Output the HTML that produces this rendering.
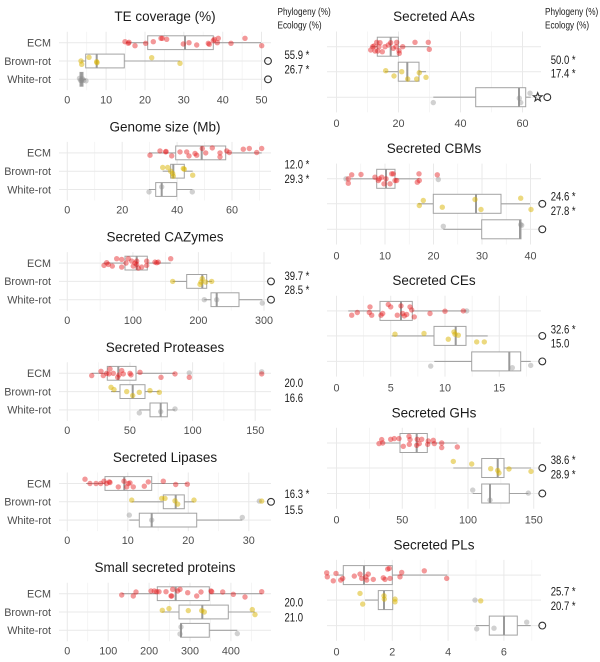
<!DOCTYPE html>
<html><head><meta charset="utf-8"><style>
html,body{margin:0;padding:0;background:#fff;}
svg{display:block;}
.gM{stroke:#e9e9e9;stroke-width:1;fill:none}
.gm{stroke:#f1f1f1;stroke-width:.7;fill:none}
.bx{fill:#fff;stroke:#a3a3a3;stroke-width:1}
.wh{stroke:#a3a3a3;stroke-width:1.1;fill:none}
.md{stroke:#9a9a9a;stroke-width:2;fill:none}
.e circle{fill:#e41a1c;fill-opacity:.45}
.b circle{fill:#d9b300;fill-opacity:.5}
.w circle{fill:#8c8c8c;fill-opacity:.4}
.oc{fill:none;stroke:#333;stroke-width:1.1}
text{font-family:"Liberation Sans",Arial,sans-serif}
.t{font-size:13.5px;fill:#1a1a1a;text-anchor:middle}
.tk{font-size:10.8px;fill:#4d4d4d;text-anchor:middle}
.yl{font-size:10.8px;fill:#4d4d4d;text-anchor:end}
.st{font-size:11.5px;fill:#1a1a1a}
.hd{font-size:10.5px;fill:#1a1a1a}
</style></head><body>
<svg width="600" height="662" viewBox="0 0 600 662" xmlns="http://www.w3.org/2000/svg">

<!-- headers -->
<text class="hd" transform="translate(277.5 15) scale(.78 1)">Phylogeny (%)</text>
<text class="hd" transform="translate(277.5 28.5) scale(.78 1)">Ecology (%)</text>
<text class="hd" transform="translate(545 15) scale(.78 1)">Phylogeny (%)</text>
<text class="hd" transform="translate(545 28.5) scale(.78 1)">Ecology (%)</text>

<!-- ============ L1 TE coverage ============ -->
<g transform="translate(0 16.7)">
<text class="t" x="165" y="4.5">TE coverage (%)</text>
<path class="gm" d="M86.7 15V73.6M125.6 15V73.6M164.4 15V73.6M203.2 15V73.6M242.1 15V73.6"/>
<path class="gM" d="M67.3 15V73.6M106.1 15V73.6M145 15V73.6M183.8 15V73.6M222.7 15V73.6M261.5 15V73.6M59 26H271M59 44.3H271M59 62.6H271"/>
<text class="yl" x="51" y="29.8">ECM</text><text class="yl" x="51" y="48.1">Brown-rot</text><text class="yl" x="51" y="66.4">White-rot</text>
<text class="tk" x="67.3" y="86.7">0</text><text class="tk" x="106.1" y="86.7">10</text><text class="tk" x="145" y="86.7">20</text><text class="tk" x="183.8" y="86.7">30</text><text class="tk" x="222.7" y="86.7">40</text><text class="tk" x="261.5" y="86.7">50</text>
<path class="wh" d="M126 26H147.7M213.3 26H261M81 44.3H85.7M124.3 44.3H180M79.5 62.6H80M83 62.6H86"/>
<rect class="bx" x="147.7" y="19.1" width="65.6" height="13.8"/><rect class="bx" x="85.7" y="37.4" width="38.6" height="13.8"/><rect class="bx" x="80" y="55.7" width="3" height="13.8"/>
<path class="md" d="M185 19.1V32.9M96.7 37.4V51.2M81.5 55.7V69.5"/>
<g class="e" transform="translate(0 26)"><circle cx="125" cy="-1" r="2.7"/><circle cx="128.3" cy=".6" r="2.7"/><circle cx="129" cy="-.4" r="2.7"/><circle cx="135" cy="3" r="2.7"/><circle cx="145.7" cy=".6" r="2.7"/><circle cx="153.3" cy="-1" r="2.7"/><circle cx="161" cy="-4.4" r="2.7"/><circle cx="162.3" cy="-4.4" r="2.7"/><circle cx="166.7" cy="-3.4" r="2.7"/><circle cx="183.3" cy="1.3" r="2.7"/><circle cx="189" cy="0" r="2.7"/><circle cx="196.7" cy="2.3" r="2.7"/><circle cx="208.3" cy=".6" r="2.7"/><circle cx="209.3" cy="1.6" r="2.7"/><circle cx="213.3" cy="-2" r="2.7"/><circle cx="214.3" cy="-3.4" r="2.7"/><circle cx="217.3" cy="0" r="2.7"/><circle cx="218.3" cy="-4.4" r="2.7"/><circle cx="231" cy=".6" r="2.7"/><circle cx="245" cy="-4.4" r="2.7"/><circle cx="261.7" cy="3" r="2.7"/></g>
<g class="b" transform="translate(0 44.3)"><circle cx="81" cy="0" r="2.7"/><circle cx="81.7" cy="3.3" r="2.7"/><circle cx="89" cy="-3.7" r="2.7"/><circle cx="96.7" cy=".7" r="2.7"/><circle cx="97" cy="1.7" r="2.7"/><circle cx="151.7" cy="-3.3" r="2.7"/><circle cx="180" cy="2.3" r="2.7"/></g>
<g class="w" transform="translate(0 62.6)"><circle cx="79.5" cy="-1" r="2.7"/><circle cx="80.5" cy="1" r="2.7"/><circle cx="81.5" cy="1.5" r="2.7"/><circle cx="82.5" cy="-.5" r="2.7"/><circle cx="83.5" cy="1" r="2.7"/><circle cx="86" cy="1.5" r="2.7"/></g>
<circle class="oc" cx="268" cy="44.3" r="3.4"/><circle class="oc" cx="268" cy="62.6" r="3.4"/>
</g>
<text class="st" transform="translate(284.5 59) scale(.83 1)">55.9 *</text>
<text class="st" transform="translate(284.5 73.5) scale(.83 1)">26.7 *</text>

<!-- ============ L2 Genome size ============ -->
<g transform="translate(0 126.9)">
<text class="t" x="165" y="4.5">Genome size (Mb)</text>
<path class="gm" d="M94.75 15V73.6M149.65 15V73.6M204.55 15V73.6M259.45 15V73.6"/>
<path class="gM" d="M67.3 15V73.6M122.2 15V73.6M177.1 15V73.6M232 15V73.6M59 26H271M59 44.3H271M59 62.6H271"/>
<text class="yl" x="51" y="29.8">ECM</text><text class="yl" x="51" y="48.1">Brown-rot</text><text class="yl" x="51" y="66.4">White-rot</text>
<text class="tk" x="67.3" y="86.7">0</text><text class="tk" x="122.2" y="86.7">20</text><text class="tk" x="177.1" y="86.7">40</text><text class="tk" x="232" y="86.7">60</text>
<path class="wh" d="M149 26H175.7M225.7 26H261.7M162.7 44.3H170.7M184.3 44.3H192.7M149 62.6H155.7M176.7 62.6H192.3"/>
<rect class="bx" x="175.7" y="19.1" width="50" height="13.8"/><rect class="bx" x="170.7" y="37.4" width="13.6" height="13.8"/><rect class="bx" x="155.7" y="55.7" width="21" height="13.8"/>
<path class="md" d="M201.7 19.1V32.9M173.3 37.4V51.2M161.7 55.7V69.5"/>
<g class="e" transform="translate(0 26)"><circle cx="150" cy="2.3" r="2.7"/><circle cx="160" cy="-2" r="2.7"/><circle cx="165.7" cy="-1" r="2.7"/><circle cx="171.7" cy="3" r="2.7"/><circle cx="186.7" cy="-1" r="2.7"/><circle cx="189" cy="3" r="2.7"/><circle cx="195" cy=".6" r="2.7"/><circle cx="202.3" cy="-4.4" r="2.7"/><circle cx="205.7" cy="0" r="2.7"/><circle cx="212.3" cy="-5" r="2.7"/><circle cx="220" cy="0" r="2.7"/><circle cx="220" cy="4" r="2.7"/><circle cx="226.7" cy="-2" r="2.7"/><circle cx="229.3" cy="-.4" r="2.7"/><circle cx="243.3" cy="-3.7" r="2.7"/><circle cx="249.3" cy="-4.4" r="2.7"/><circle cx="256.7" cy="-.4" r="2.7"/><circle cx="261.7" cy="-4.4" r="2.7"/><circle cx="180" cy="-1" r="2.7"/><circle cx="196.7" cy="2.3" r="2.7"/><circle cx="166" cy="-1.5" r="2.7"/></g>
<g class="b" transform="translate(0 44.3)"><circle cx="162.7" cy="-3.7" r="2.7"/><circle cx="167.7" cy="-3.7" r="2.7"/><circle cx="170.7" cy="0" r="2.7"/><circle cx="172.7" cy="2.3" r="2.7"/><circle cx="173.3" cy="5" r="2.7"/><circle cx="183.3" cy="-2.7" r="2.7"/><circle cx="184.3" cy="-2" r="2.7"/><circle cx="192.7" cy="4" r="2.7"/></g>
<g class="w" transform="translate(0 62.6)"><circle cx="149" cy="2.4" r="2.7"/><circle cx="161.7" cy="-2.6" r="2.7"/><circle cx="192.3" cy="2.4" r="2.7"/></g>
</g>
<text class="st" transform="translate(284.5 168.5) scale(.83 1)">12.0 *</text>
<text class="st" transform="translate(284.5 183) scale(.83 1)">29.3 *</text>

<!-- ============ L3 CAZymes ============ -->
<g transform="translate(0 237.1)">
<text class="t" x="165" y="4.5">Secreted CAZymes</text>
<path class="gm" d="M100.1 15V73.6M165.6 15V73.6M231.2 15V73.6"/>
<path class="gM" d="M67.3 15V73.6M132.9 15V73.6M198.4 15V73.6M264 15V73.6M59 26H271M59 44.3H271M59 62.6H271"/>
<text class="yl" x="51" y="29.8">ECM</text><text class="yl" x="51" y="48.1">Brown-rot</text><text class="yl" x="51" y="66.4">White-rot</text>
<text class="tk" x="67.3" y="86.7">0</text><text class="tk" x="132.9" y="86.7">100</text><text class="tk" x="198.4" y="86.7">200</text><text class="tk" x="264" y="86.7">300</text>
<path class="wh" d="M103.3 26H125M147.3 26H170.7M172.7 44.3H186.7M206.7 44.3H212M204.3 62.6H211M239 62.6H262.3"/>
<rect class="bx" x="125" y="19.1" width="22.3" height="13.8"/><rect class="bx" x="186.7" y="37.4" width="20" height="13.8"/><rect class="bx" x="211" y="55.7" width="28" height="13.8"/>
<path class="md" d="M136.7 19.1V32.9M202.3 37.4V51.2M216.7 55.7V69.5"/>
<g class="e" transform="translate(0 26)"><circle cx="104" cy="2.3" r="2.7"/><circle cx="106.7" cy="-.4" r="2.7"/><circle cx="112.3" cy="3" r="2.7"/><circle cx="116.7" cy="-4.4" r="2.7"/><circle cx="121.7" cy="-3.7" r="2.7"/><circle cx="126" cy="0" r="2.7"/><circle cx="131.7" cy="-2" r="2.7"/><circle cx="133.3" cy="3" r="2.7"/><circle cx="136.7" cy="-2" r="2.7"/><circle cx="136.7" cy="1.3" r="2.7"/><circle cx="141.7" cy="4" r="2.7"/><circle cx="146.7" cy="-2" r="2.7"/><circle cx="146.7" cy="2.3" r="2.7"/><circle cx="155" cy="-1" r="2.7"/><circle cx="156.7" cy="-.4" r="2.7"/><circle cx="158.3" cy="-1" r="2.7"/><circle cx="170.7" cy="-4.4" r="2.7"/><circle cx="128.3" cy="-4.4" r="2.7"/><circle cx="108.3" cy="1.3" r="2.7"/><circle cx="135" cy="0" r="2.7"/><circle cx="121.7" cy="4" r="2.7"/><circle cx="138.3" cy="5" r="2.7"/></g>
<g class="b" transform="translate(0 44.3)"><circle cx="172.7" cy="0" r="2.7"/><circle cx="201" cy=".7" r="2.7"/><circle cx="202.3" cy="-2.7" r="2.7"/><circle cx="205.7" cy=".7" r="2.7"/><circle cx="211.7" cy="0" r="2.7"/><circle cx="200" cy="3" r="2.7"/></g>
<g class="w" transform="translate(0 62.6)"><circle cx="204.3" cy="0" r="2.7"/><circle cx="216.7" cy="0" r="2.7"/><circle cx="262.3" cy="3.4" r="2.7"/></g>
<circle class="oc" cx="271" cy="44.3" r="3.4"/><circle class="oc" cx="271" cy="62.6" r="3.4"/>
</g>
<text class="st" transform="translate(284.5 280) scale(.83 1)">39.7 *</text>
<text class="st" transform="translate(284.5 294) scale(.83 1)">28.5 *</text>

<!-- ============ L4 Proteases ============ -->
<g transform="translate(0 347.3)">
<text class="t" x="165" y="4.5">Secreted Proteases</text>
<path class="gm" d="M98.6 15V73.6M161.3 15V73.6M223.9 15V73.6"/>
<path class="gM" d="M67.3 15V73.6M129.9 15V73.6M192.6 15V73.6M255.2 15V73.6M59 26H271M59 44.3H271M59 62.6H271"/>
<text class="yl" x="51" y="29.8">ECM</text><text class="yl" x="51" y="48.1">Brown-rot</text><text class="yl" x="51" y="66.4">White-rot</text>
<text class="tk" x="67.3" y="86.7">0</text><text class="tk" x="129.9" y="86.7">50</text><text class="tk" x="192.6" y="86.7">100</text><text class="tk" x="255.2" y="86.7">150</text>
<path class="wh" d="M91.7 26H107.3M136 26H175M111 44.3H120M145 44.3H159.3M139.3 62.6H150M167.3 62.6H175"/>
<rect class="bx" x="107.3" y="19.1" width="28.7" height="13.8"/><rect class="bx" x="120" y="37.4" width="25" height="13.8"/><rect class="bx" x="150" y="55.7" width="17.3" height="13.8"/>
<path class="md" d="M118.3 19.1V32.9M132.7 37.4V51.2M160.7 55.7V69.5"/>
<g class="w" transform="translate(0 26)"><circle cx="189.3" cy="-.4" r="2.7"/><circle cx="261.7" cy="-1.5" r="2.7"/></g>
<g class="e" transform="translate(0 26)"><circle cx="91.7" cy="2.3" r="2.7"/><circle cx="101" cy="-2" r="2.7"/><circle cx="103.3" cy="2.3" r="2.7"/><circle cx="106.7" cy="0" r="2.7"/><circle cx="109" cy=".6" r="2.7"/><circle cx="110" cy="-4.4" r="2.7"/><circle cx="113.3" cy="0" r="2.7"/><circle cx="117.7" cy="4" r="2.7"/><circle cx="119" cy="1.6" r="2.7"/><circle cx="121.7" cy="-2.7" r="2.7"/><circle cx="123.3" cy=".6" r="2.7"/><circle cx="130" cy="0" r="2.7"/><circle cx="131" cy="1.6" r="2.7"/><circle cx="140" cy="-1" r="2.7"/><circle cx="161" cy="4" r="2.7"/><circle cx="175" cy=".6" r="2.7"/><circle cx="189.3" cy="4" r="2.7"/><circle cx="261.7" cy=".6" r="2.7"/></g>
<g class="b" transform="translate(0 44.3)"><circle cx="111" cy="-4.3" r="2.7"/><circle cx="114" cy="-2" r="2.7"/><circle cx="126.7" cy="0" r="2.7"/><circle cx="132.7" cy="4" r="2.7"/><circle cx="139.3" cy=".7" r="2.7"/><circle cx="150" cy="-1" r="2.7"/><circle cx="159.3" cy=".7" r="2.7"/></g>
<g class="w" transform="translate(0 62.6)"><circle cx="139.3" cy="3" r="2.7"/><circle cx="160.7" cy="1.7" r="2.7"/><circle cx="175" cy="-1" r="2.7"/></g>
</g>
<text class="st" transform="translate(284.5 387) scale(.83 1)">20.0</text>
<text class="st" transform="translate(284.5 402) scale(.83 1)">16.6</text>

<!-- ============ L5 Lipases ============ -->
<g transform="translate(0 457.5)">
<text class="t" x="165" y="4.5">Secreted Lipases</text>
<path class="gm" d="M97.6 15V73.6M158.1 15V73.6M218.6 15V73.6"/>
<path class="gM" d="M67.3 15V73.6M127.8 15V73.6M188.3 15V73.6M248.8 15V73.6M59 26H271M59 44.3H271M59 62.6H271"/>
<text class="yl" x="51" y="29.8">ECM</text><text class="yl" x="51" y="48.1">Brown-rot</text><text class="yl" x="51" y="66.4">White-rot</text>
<text class="tk" x="67.3" y="86.7">0</text><text class="tk" x="127.8" y="86.7">10</text><text class="tk" x="188.3" y="86.7">20</text><text class="tk" x="248.8" y="86.7">30</text>
<path class="wh" d="M86 26H105M151.7 26H187.3M131.7 44.3H163.3M184.3 44.3H194M129.3 62.6H139.3M196.7 62.6H242.3"/>
<rect class="bx" x="105" y="19.1" width="46.7" height="13.8"/><rect class="bx" x="163.3" y="37.4" width="21" height="13.8"/><rect class="bx" x="139.3" y="55.7" width="57.4" height="13.8"/>
<path class="md" d="M124.3 19.1V32.9M175.7 37.4V51.2M151.7 55.7V69.5"/>
<g class="e" transform="translate(0 26)"><circle cx="85" cy="-4.3" r="2.7"/><circle cx="90" cy="0" r="2.7"/><circle cx="96" cy="0" r="2.7"/><circle cx="100.7" cy="0" r="2.7"/><circle cx="104" cy="-2.3" r="2.7"/><circle cx="106.7" cy="0" r="2.7"/><circle cx="109.3" cy="-1.6" r="2.7"/><circle cx="118.3" cy="3.4" r="2.7"/><circle cx="124" cy="-2.3" r="2.7"/><circle cx="126.7" cy="3.4" r="2.7"/><circle cx="130" cy="-.6" r="2.7"/><circle cx="133.3" cy="3.4" r="2.7"/><circle cx="144.3" cy="2.7" r="2.7"/><circle cx="148.3" cy="-1.6" r="2.7"/><circle cx="163.3" cy="-2.3" r="2.7"/><circle cx="175.7" cy="1" r="2.7"/><circle cx="187.3" cy=".7" r="2.7"/><circle cx="128.3" cy="0" r="2.7"/><circle cx="110" cy="-1" r="2.7"/></g>
<g class="w" transform="translate(0 44.3)"><circle cx="259.3" cy="-.7" r="2.7"/></g>
<g class="b" transform="translate(0 44.3)"><circle cx="131.7" cy="-1.7" r="2.7"/><circle cx="161.7" cy="-3.4" r="2.7"/><circle cx="165" cy="-3.4" r="2.7"/><circle cx="175" cy="-1" r="2.7"/><circle cx="177.7" cy="2.3" r="2.7"/><circle cx="194" cy="-1.7" r="2.7"/><circle cx="261.7" cy="-.7" r="2.7"/></g>
<g class="w" transform="translate(0 62.6)"><circle cx="129.3" cy="-5" r="2.7"/><circle cx="151.7" cy="0" r="2.7"/><circle cx="242.3" cy="-2.7" r="2.7"/></g>
<circle class="oc" cx="271" cy="44.3" r="3.4"/>
</g>
<text class="st" transform="translate(284.5 498) scale(.83 1)">16.3 *</text>
<text class="st" transform="translate(284.5 514) scale(.83 1)">15.5</text>

<!-- ============ L6 SSP ============ -->
<g transform="translate(0 567.7)">
<text class="t" x="165" y="4.5">Small secreted proteins</text>
<path class="gm" d="M87.75 15V73.6M128.65 15V73.6M169.55 15V73.6M210.45 15V73.6M251.35 15V73.6"/>
<path class="gM" d="M67.3 15V73.6M108.2 15V73.6M149.1 15V73.6M190 15V73.6M230.9 15V73.6M59 26H271M59 44.3H271M59 62.6H271"/>
<text class="yl" x="51" y="29.8">ECM</text><text class="yl" x="51" y="48.1">Brown-rot</text><text class="yl" x="51" y="66.4">White-rot</text>
<text class="tk" x="67.3" y="86.7">0</text><text class="tk" x="108.2" y="86.7">100</text><text class="tk" x="149.1" y="86.7">200</text><text class="tk" x="190" y="86.7">300</text><text class="tk" x="230.9" y="86.7">400</text>
<path class="wh" d="M121.7 26H157.3M209.3 26H262.3M162.3 44.3H179M228.3 44.3H255M180 62.6H180.7M209.3 62.6H237.3"/>
<rect class="bx" x="157.3" y="19.1" width="52" height="13.8"/><rect class="bx" x="179" y="37.4" width="49.3" height="13.8"/><rect class="bx" x="180.7" y="55.7" width="28.6" height="13.8"/>
<path class="md" d="M175.7 19.1V32.9M202.3 37.4V51.2M181 55.7V69.5"/>
<g class="e" transform="translate(0 26)"><circle cx="121.7" cy="1.3" r="2.7"/><circle cx="133.3" cy="2.3" r="2.7"/><circle cx="136" cy="-1.7" r="2.7"/><circle cx="151" cy="-2.7" r="2.7"/><circle cx="154.3" cy="-2.7" r="2.7"/><circle cx="156.7" cy="-2" r="2.7"/><circle cx="159" cy="-2" r="2.7"/><circle cx="166" cy="-2" r="2.7"/><circle cx="171" cy="2.3" r="2.7"/><circle cx="172.7" cy="-4.4" r="2.7"/><circle cx="177.7" cy="-2.7" r="2.7"/><circle cx="180" cy="-4.4" r="2.7"/><circle cx="187.7" cy="-1" r="2.7"/><circle cx="196.7" cy="2.3" r="2.7"/><circle cx="201" cy="-1.7" r="2.7"/><circle cx="211" cy="-2.7" r="2.7"/><circle cx="211.7" cy="-2" r="2.7"/><circle cx="222.7" cy="-1.7" r="2.7"/><circle cx="233.3" cy=".6" r="2.7"/><circle cx="245" cy="3.3" r="2.7"/><circle cx="261.7" cy="-2" r="2.7"/><circle cx="171.7" cy="2.3" r="2.7"/></g>
<g class="b" transform="translate(0 44.3)"><circle cx="162.3" cy="-1.7" r="2.7"/><circle cx="169" cy="-3.4" r="2.7"/><circle cx="188.3" cy="-1.4" r="2.7"/><circle cx="201.7" cy="-1.4" r="2.7"/><circle cx="204.3" cy="0" r="2.7"/><circle cx="252.3" cy="-2.4" r="2.7"/><circle cx="255" cy="2.6" r="2.7"/></g>
<g class="w" transform="translate(0 62.6)"><circle cx="180" cy="3.7" r="2.7"/><circle cx="181" cy="-3.3" r="2.7"/><circle cx="237.3" cy="3.3" r="2.7"/></g>
</g>
<text class="st" transform="translate(284.5 606.5) scale(.83 1)">20.0</text>
<text class="st" transform="translate(284.5 621.5) scale(.83 1)">21.0</text>

<!-- ============ R1 AAs ============ -->
<g transform="translate(0 16.7)">
<text class="t" x="434" y="4.3">Secreted AAs</text>
<path class="gm" d="M367.5 14.8V95.7M429.5 14.8V95.7M491.5 14.8V95.7"/>
<path class="gM" d="M336.5 14.8V95.7M398.5 14.8V95.7M460.5 14.8V95.7M522.5 14.8V95.7M327 30H541M327 55H541M327 80.5H541"/>
<text class="tk" x="336.5" y="110.5">0</text><text class="tk" x="398.5" y="110.5">20</text><text class="tk" x="460.5" y="110.5">40</text><text class="tk" x="522.5" y="110.5">60</text>
<path class="wh" d="M370.7 30H377.3M398.3 30H429.3M385 55H398.3M419 55H426M433.3 80.5H475.7M525.7 80.5H530.7"/>
<rect class="bx" x="377.3" y="20.5" width="21" height="19"/><rect class="bx" x="398.3" y="45.5" width="20.7" height="19"/><rect class="bx" x="475.7" y="71" width="50" height="19"/>
<path class="md" d="M390.7 20.5V39.5M407.3 45.5V64.5M519 71V90"/>
<g class="e" transform="translate(0 30)"><circle cx="370.7" cy="3.3" r="2.7"/><circle cx="372.7" cy="0" r="2.7"/><circle cx="375" cy="4.3" r="2.7"/><circle cx="376.7" cy="-4.4" r="2.7"/><circle cx="379" cy="0" r="2.7"/><circle cx="380" cy="-4" r="2.7"/><circle cx="382.3" cy="5" r="2.7"/><circle cx="385" cy="0" r="2.7"/><circle cx="388.3" cy="-1.7" r="2.7"/><circle cx="390.7" cy="-4" r="2.7"/><circle cx="393.3" cy="1.6" r="2.7"/><circle cx="396" cy="0" r="2.7"/><circle cx="396.7" cy="-4.4" r="2.7"/><circle cx="399" cy="4" r="2.7"/><circle cx="399.3" cy="6.6" r="2.7"/><circle cx="402.7" cy="0" r="2.7"/><circle cx="415" cy="-4.4" r="2.7"/><circle cx="428.3" cy="-4.4" r="2.7"/><circle cx="429.3" cy="2.6" r="2.7"/><circle cx="374" cy="-.7" r="2.7"/><circle cx="377.7" cy="4.3" r="2.7"/></g>
<g class="b" transform="translate(0 55)"><circle cx="385.7" cy="-1" r="2.7"/><circle cx="394" cy="4.3" r="2.7"/><circle cx="401.7" cy="0" r="2.7"/><circle cx="407.7" cy="7.3" r="2.7"/><circle cx="416.7" cy="7.3" r="2.7"/><circle cx="419.3" cy="1" r="2.7"/><circle cx="426" cy="5.6" r="2.7"/></g>
<g class="w" transform="translate(0 80.5)"><circle cx="433.3" cy="5.4" r="2.7"/><circle cx="520.7" cy="5.4" r="2.7"/><circle cx="530" cy="-4" r="2.7"/><circle cx="519.3" cy="1" r="2.7"/></g>
<polygon class="oc" points="537.7,76 538.8,78.96 542.08,79.08 539.5,81.09 540.4,84.22 537.7,82.4 535,84.22 535.9,81.09 533.33,79.08 536.58,78.96"/>
<circle class="oc" cx="547.3" cy="80.5" r="3.4"/>
</g>
<text class="st" transform="translate(550.7 64) scale(.83 1)">50.0 *</text>
<text class="st" transform="translate(550.7 77.5) scale(.83 1)">17.4 *</text>

<!-- ============ R2 CBMs ============ -->
<g transform="translate(0 148.8)">
<text class="t" x="434" y="4.3">Secreted CBMs</text>
<path class="gm" d="M360.75 14.8V95.7M409.25 14.8V95.7M457.75 14.8V95.7M506.25 14.8V95.7"/>
<path class="gM" d="M336.5 14.8V95.7M385 14.8V95.7M433.5 14.8V95.7M482 14.8V95.7M530.5 14.8V95.7M327 30H541M327 55H541M327 80.5H541"/>
<text class="tk" x="336.5" y="110.5">0</text><text class="tk" x="385" y="110.5">10</text><text class="tk" x="433.5" y="110.5">20</text><text class="tk" x="482" y="110.5">30</text><text class="tk" x="530.5" y="110.5">40</text>
<path class="wh" d="M350.7 30H376.7M395 30H419.3M418.3 55H433.3M501 55H530M443.3 80.5H481.7"/>
<rect class="bx" x="376.7" y="20.5" width="18.3" height="19"/><rect class="bx" x="433.3" y="45.5" width="67.7" height="19"/><rect class="bx" x="481.7" y="71" width="39.3" height="19"/>
<path class="md" d="M386 20.5V39.5M476 45.5V64.5M520 71V90"/>
<g class="w" transform="translate(0 30)"><circle cx="346" cy="0" r="2.7"/><circle cx="438.3" cy=".7" r="2.7"/></g>
<g class="e" transform="translate(0 30)"><circle cx="348.3" cy="4.4" r="2.7"/><circle cx="351.7" cy="-4" r="2.7"/><circle cx="361" cy="-4.3" r="2.7"/><circle cx="375" cy="-1.6" r="2.7"/><circle cx="378.3" cy="1.7" r="2.7"/><circle cx="379.3" cy="0" r="2.7"/><circle cx="381.7" cy="-1.6" r="2.7"/><circle cx="384" cy="5" r="2.7"/><circle cx="386" cy="0" r="2.7"/><circle cx="390" cy="5" r="2.7"/><circle cx="391.7" cy="-5" r="2.7"/><circle cx="393.3" cy="-5" r="2.7"/><circle cx="395" cy="1.7" r="2.7"/><circle cx="396.7" cy="1.7" r="2.7"/><circle cx="419" cy="-5" r="2.7"/><circle cx="419.3" cy="1.7" r="2.7"/><circle cx="417.3" cy="3.4" r="2.7"/><circle cx="437.3" cy="-4" r="2.7"/><circle cx="348.3" cy="0" r="2.7"/></g>
<g class="b" transform="translate(0 55)"><circle cx="419.3" cy="1.7" r="2.7"/><circle cx="423.3" cy="-3.3" r="2.7"/><circle cx="442.3" cy="3.4" r="2.7"/><circle cx="475" cy="-4.3" r="2.7"/><circle cx="481" cy="5.7" r="2.7"/><circle cx="520.7" cy="-5.6" r="2.7"/><circle cx="531" cy="5.7" r="2.7"/></g>
<g class="w" transform="translate(0 80.5)"><circle cx="443.3" cy="-3" r="2.7"/><circle cx="520.7" cy="-4.7" r="2.7"/><circle cx="521.7" cy="-4" r="2.7"/></g>
<circle class="oc" cx="542.3" cy="55" r="3.4"/><circle class="oc" cx="542.3" cy="80.5" r="3.4"/>
</g>
<text class="st" transform="translate(550.7 200.5) scale(.83 1)">24.6 *</text>
<text class="st" transform="translate(550.7 215) scale(.83 1)">27.8 *</text>

<!-- ============ R3 CEs ============ -->
<g transform="translate(0 280.9)">
<text class="t" x="434" y="4.3">Secreted CEs</text>
<path class="gm" d="M363.6 14.8V95.7M417.9 14.8V95.7M472.1 14.8V95.7M526.4 14.8V95.7"/>
<path class="gM" d="M336.5 14.8V95.7M390.75 14.8V95.7M445 14.8V95.7M499.25 14.8V95.7M327 30H541M327 55H541M327 80.5H541"/>
<text class="tk" x="336.5" y="110.5">0</text><text class="tk" x="390.75" y="110.5">5</text><text class="tk" x="445" y="110.5">10</text><text class="tk" x="499.25" y="110.5">15</text>
<path class="wh" d="M348.3 30H380M412.3 30H466.7M391.7 55H434M466 55H487.7M434.3 80.5H471.7M520.7 80.5H530.7"/>
<rect class="bx" x="380" y="20.5" width="32.3" height="19"/><rect class="bx" x="434" y="45.5" width="32" height="19"/><rect class="bx" x="471.7" y="71" width="49" height="19"/>
<path class="md" d="M401 20.5V39.5M455.7 45.5V64.5M509.3 71V90"/>
<g class="w" transform="translate(0 30)"><circle cx="466.7" cy="0" r="2.7"/></g>
<g class="e" transform="translate(0 30)"><circle cx="351.7" cy="4.3" r="2.7"/><circle cx="357.3" cy="1.6" r="2.7"/><circle cx="370" cy="-4" r="2.7"/><circle cx="369.3" cy="1.6" r="2.7"/><circle cx="371.7" cy="4.3" r="2.7"/><circle cx="381" cy="4.3" r="2.7"/><circle cx="382.7" cy="2.6" r="2.7"/><circle cx="388.3" cy="-6.4" r="2.7"/><circle cx="390.7" cy="-4" r="2.7"/><circle cx="397.3" cy="4.3" r="2.7"/><circle cx="401" cy="-5" r="2.7"/><circle cx="402.7" cy="2.6" r="2.7"/><circle cx="404.3" cy="5" r="2.7"/><circle cx="406.7" cy="3.6" r="2.7"/><circle cx="410" cy="-4" r="2.7"/><circle cx="414.3" cy="6" r="2.7"/><circle cx="430" cy="2.6" r="2.7"/><circle cx="445" cy=".3" r="2.7"/><circle cx="463.3" cy="0" r="2.7"/><circle cx="411.7" cy="-1" r="2.7"/></g>
<g class="b" transform="translate(0 55)"><circle cx="395" cy="-1.7" r="2.7"/><circle cx="424" cy="-2.4" r="2.7"/><circle cx="448.3" cy="3.3" r="2.7"/><circle cx="454" cy="-4" r="2.7"/><circle cx="455" cy="-1.7" r="2.7"/><circle cx="458.3" cy="-.7" r="2.7"/><circle cx="476.7" cy="6" r="2.7"/><circle cx="484.3" cy="6" r="2.7"/></g>
<g class="w" transform="translate(0 80.5)"><circle cx="430.7" cy="4.7" r="2.7"/><circle cx="512.3" cy="6.3" r="2.7"/><circle cx="530.7" cy="4" r="2.7"/></g>
<circle class="oc" cx="542.3" cy="55" r="3.4"/><circle class="oc" cx="542.3" cy="80.5" r="3.4"/>
</g>
<text class="st" transform="translate(550.7 333.3) scale(.83 1)">32.6 *</text>
<text class="st" transform="translate(550.7 347.3) scale(.83 1)">15.0</text>

<!-- ============ R4 GHs ============ -->
<g transform="translate(0 413)">
<text class="t" x="434" y="4.3">Secreted GHs</text>
<path class="gm" d="M369.4 14.8V95.7M435.1 14.8V95.7M500.9 14.8V95.7"/>
<path class="gM" d="M336.5 14.8V95.7M402.25 14.8V95.7M468 14.8V95.7M533.75 14.8V95.7M327 30H541M327 55H541M327 80.5H541"/>
<text class="tk" x="336.5" y="110.5">0</text><text class="tk" x="402.25" y="110.5">50</text><text class="tk" x="468" y="110.5">100</text><text class="tk" x="533.75" y="110.5">150</text>
<path class="wh" d="M380.7 30H400M427.3 30H457.3M453.3 55H481.7M504 55H531M472.7 80.5H481.7M509.3 80.5H528.3"/>
<rect class="bx" x="400" y="20.5" width="27.3" height="19"/><rect class="bx" x="481.7" y="45.5" width="22.3" height="19"/><rect class="bx" x="481.7" y="71" width="27.6" height="19"/>
<path class="md" d="M416.7 20.5V39.5M497.7 45.5V64.5M490 71V90"/>
<g class="e" transform="translate(0 30)"><circle cx="379" cy=".6" r="2.7"/><circle cx="381.7" cy="-3.4" r="2.7"/><circle cx="382.7" cy="0" r="2.7"/><circle cx="390.7" cy="-3.7" r="2.7"/><circle cx="394.3" cy="-4.4" r="2.7"/><circle cx="399" cy="-4.4" r="2.7"/><circle cx="403.3" cy="3.3" r="2.7"/><circle cx="409" cy="-6.7" r="2.7"/><circle cx="409.3" cy="1.3" r="2.7"/><circle cx="416.7" cy="2.3" r="2.7"/><circle cx="417.3" cy="-3.7" r="2.7"/><circle cx="419.3" cy=".6" r="2.7"/><circle cx="421.7" cy="-3.7" r="2.7"/><circle cx="428.3" cy="-2" r="2.7"/><circle cx="427.7" cy="1.3" r="2.7"/><circle cx="433.3" cy="-2.7" r="2.7"/><circle cx="434.3" cy=".6" r="2.7"/><circle cx="441.7" cy="0" r="2.7"/><circle cx="441.7" cy="4.6" r="2.7"/><circle cx="457.3" cy="4" r="2.7"/><circle cx="410" cy="-3.4" r="2.7"/></g>
<g class="b" transform="translate(0 55)"><circle cx="453.3" cy="-6.6" r="2.7"/><circle cx="471.7" cy="-4" r="2.7"/><circle cx="490.7" cy=".7" r="2.7"/><circle cx="497.7" cy="2.4" r="2.7"/><circle cx="499" cy="5" r="2.7"/><circle cx="509" cy="1" r="2.7"/><circle cx="531" cy="3.4" r="2.7"/></g>
<g class="w" transform="translate(0 80.5)"><circle cx="472.7" cy="-3.4" r="2.7"/><circle cx="490" cy="6.6" r="2.7"/><circle cx="528.3" cy="-.4" r="2.7"/></g>
<circle class="oc" cx="542.3" cy="55" r="3.4"/><circle class="oc" cx="542.3" cy="80.5" r="3.4"/>
</g>
<text class="st" transform="translate(550.7 464) scale(.83 1)">38.6 *</text>
<text class="st" transform="translate(550.7 478.3) scale(.83 1)">28.9 *</text>

<!-- ============ R5 PLs ============ -->
<g transform="translate(0 545.1)">
<text class="t" x="434" y="4.3">Secreted PLs</text>
<path class="gm" d="M364.4 14.8V95.7M420.2 14.8V95.7M476 14.8V95.7M531.8 14.8V95.7"/>
<path class="gM" d="M336.5 14.8V95.7M392.3 14.8V95.7M448.1 14.8V95.7M503.9 14.8V95.7M327 30H541M327 55H541M327 80.5H541"/>
<text class="tk" x="336.5" y="110.5">0</text><text class="tk" x="392.3" y="110.5">2</text><text class="tk" x="448.1" y="110.5">4</text><text class="tk" x="503.9" y="110.5">6</text>
<path class="wh" d="M337.3 30H343.3M392.3 30H447.3M365 55H378.3M476 80.5H489.3M517.3 80.5H530.7"/>
<rect class="bx" x="343.3" y="20.5" width="49" height="19"/><rect class="bx" x="378.3" y="45.5" width="14.4" height="19"/><rect class="bx" x="489.3" y="71" width="28" height="19"/>
<path class="md" d="M364 20.5V39.5M384 45.5V64.5M504 71V90"/>
<g class="e" transform="translate(0 30)"><circle cx="326.7" cy="-2.3" r="2.7"/><circle cx="327.3" cy="1.7" r="2.7"/><circle cx="333.3" cy="5.7" r="2.7"/><circle cx="336" cy="-1.7" r="2.7"/><circle cx="340.7" cy="5" r="2.7"/><circle cx="342.7" cy="3.3" r="2.7"/><circle cx="354.3" cy="1" r="2.7"/><circle cx="360" cy="-1" r="2.7"/><circle cx="361.7" cy="3.3" r="2.7"/><circle cx="366" cy="1.7" r="2.7"/><circle cx="366.7" cy="5" r="2.7"/><circle cx="368.3" cy="-1" r="2.7"/><circle cx="373.3" cy="4.3" r="2.7"/><circle cx="383.3" cy="2.7" r="2.7"/><circle cx="385" cy="4.3" r="2.7"/><circle cx="387.7" cy="-6" r="2.7"/><circle cx="389.3" cy="-6.7" r="2.7"/><circle cx="390" cy="3.3" r="2.7"/><circle cx="400" cy="1.7" r="2.7"/><circle cx="401.7" cy="-2.7" r="2.7"/><circle cx="424.3" cy="-4.3" r="2.7"/><circle cx="446.7" cy="3.3" r="2.7"/></g>
<g class="w" transform="translate(0 55)"><circle cx="475" cy="0" r="2.7"/></g>
<g class="b" transform="translate(0 55)"><circle cx="360" cy="-6.7" r="2.7"/><circle cx="362.7" cy="4" r="2.7"/><circle cx="384" cy="-4.3" r="2.7"/><circle cx="384.3" cy="-1" r="2.7"/><circle cx="395" cy="-1" r="2.7"/><circle cx="395" cy="1.7" r="2.7"/><circle cx="480.7" cy=".7" r="2.7"/></g>
<g class="w" transform="translate(0 80.5)"><circle cx="476.7" cy="3.3" r="2.7"/><circle cx="494" cy="2.6" r="2.7"/><circle cx="526.7" cy="-3.4" r="2.7"/></g>
<circle class="oc" cx="542.3" cy="80.5" r="3.4"/>
</g>
<text class="st" transform="translate(550.7 595.7) scale(.83 1)">25.7 *</text>
<text class="st" transform="translate(550.7 610) scale(.83 1)">20.7 *</text>

</svg>
</body></html>
